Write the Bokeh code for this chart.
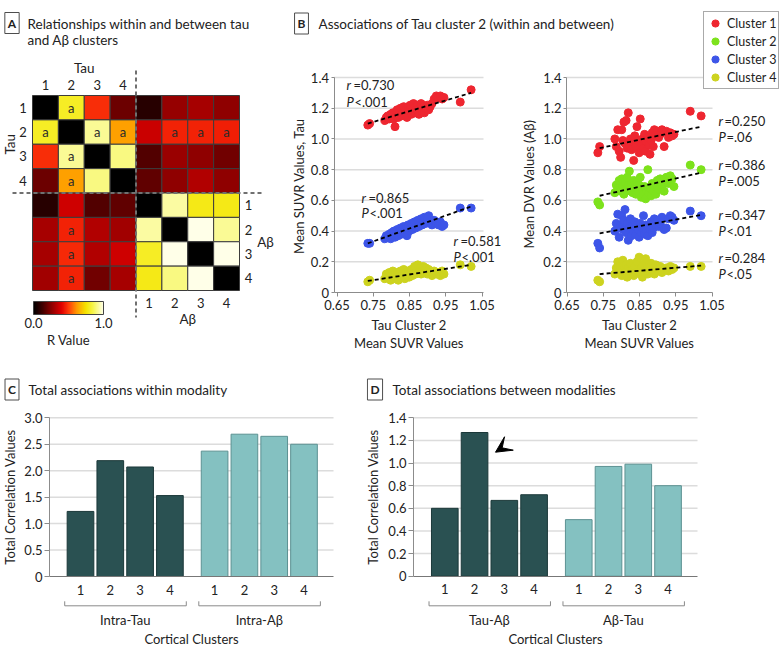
import math
from bokeh.plotting import figure
from bokeh.models import (Range1d, FixedTicker, LinearAxis, Label, Arrow, VeeHead, ColorBar,
                          LinearColorMapper, Legend, LegendItem, ColumnDataSource,
                          PrintfTickFormatter)
from bokeh.layouts import row, column
from bokeh.embed import file_html
from bokeh.resources import INLINE
from bokeh.core.properties import value
from bokeh.core.validation import silence
from bokeh.core.validation.warnings import MISSING_RENDERERS

silence(MISSING_RENDERERS, True)

# ---------------------------------------------------------------- data
cluster_ticks = ["1", "2", "3", "4"]
cluster_names = ["Cluster 1", "Cluster 2", "Cluster 3", "Cluster 4"]

# Panel A: R values; rows/cols = Tau 1-4 then Abeta 1-4 (diagonal not shown -> black)
R_VALUES = [
    [None, 0.80, 0.48, 0.20, 0.08, 0.27, 0.30, 0.26],
    [0.80, None, 0.92, 0.63, 0.36, 0.46, 0.46, 0.45],
    [0.48, 0.92, None, 0.90, 0.16, 0.28, 0.26, 0.21],
    [0.20, 0.63, 0.90, None, 0.18, 0.26, 0.32, 0.26],
    [0.08, 0.37, 0.16, 0.18, None, 0.93, 0.78, 0.78],
    [0.30, 0.46, 0.32, 0.29, 0.93, None, 1.00, 0.92],
    [0.30, 0.47, 0.32, 0.37, 0.80, 1.00, None, 1.00],
    [0.29, 0.46, 0.21, 0.30, 0.78, 0.90, 1.00, None],
]
SIGNIFICANT = [
    [0, 1, 0, 0, 0, 0, 0, 0],
    [1, 0, 1, 1, 0, 1, 1, 1],
    [0, 1, 0, 0, 0, 0, 0, 0],
    [0, 1, 0, 0, 0, 0, 0, 0],
    [0, 0, 0, 0, 0, 0, 0, 0],
    [0, 1, 0, 0, 0, 0, 0, 0],
    [0, 1, 0, 0, 0, 0, 0, 0],
    [0, 1, 0, 0, 0, 0, 0, 0],
]
colorbar_ticks = [0.0, 1.0]

# Panel B
tau2_suvr = [0.735, 0.740, 0.782, 0.786, 0.790, 0.794, 0.798, 0.801, 0.804, 0.807, 0.810, 0.813,
             0.816, 0.819, 0.822, 0.825, 0.828, 0.831, 0.834, 0.837, 0.840, 0.843, 0.846, 0.849,
             0.852, 0.855, 0.858, 0.861, 0.864, 0.867, 0.870, 0.873, 0.876, 0.879, 0.882, 0.885,
             0.888, 0.891, 0.895, 0.899, 0.903, 0.907, 0.912, 0.918, 0.924, 0.930, 0.935, 0.940,
             0.945, 0.990, 1.020]
tau_c1 = [1.09, 1.10, 1.12, 1.14, 1.15, 1.13, 1.16, 1.14, 1.17, 1.13, 1.08, 1.16, 1.19, 1.14, 1.18,
          1.20, 1.15, 1.17, 1.21, 1.16, 1.19, 1.14, 1.21, 1.18, 1.22, 1.16, 1.20, 1.23, 1.17, 1.21,
          1.19, 1.22, 1.16, 1.20, 1.23, 1.18, 1.21, 1.17, 1.20, 1.22, 1.19, 1.21, 1.23, 1.26, 1.28,
          1.27, 1.28, 1.26, 1.27, 1.24, 1.32]
tau_c3 = [0.32, 0.32, 0.35, 0.37, 0.36, 0.38, 0.35, 0.39, 0.37, 0.40, 0.36, 0.38, 0.41, 0.37, 0.40,
          0.42, 0.38, 0.41, 0.43, 0.39, 0.42, 0.37, 0.44, 0.40, 0.42, 0.45, 0.41, 0.43, 0.46, 0.42,
          0.44, 0.47, 0.43, 0.45, 0.48, 0.44, 0.46, 0.49, 0.45, 0.47, 0.50, 0.46, 0.44, 0.47, 0.45,
          0.44, 0.46, 0.43, 0.44, 0.55, 0.55]
tau_c4 = [0.07, 0.08, 0.09, 0.12, 0.10, 0.13, 0.08, 0.11, 0.14, 0.09, 0.12, 0.10, 0.13, 0.08, 0.11,
          0.14, 0.10, 0.12, 0.15, 0.09, 0.13, 0.11, 0.14, 0.10, 0.12, 0.15, 0.11, 0.13, 0.17, 0.12,
          0.14, 0.18, 0.13, 0.16, 0.12, 0.15, 0.17, 0.13, 0.16, 0.12, 0.15, 0.13, 0.11, 0.14, 0.12,
          0.13, 0.11, 0.14, 0.12, 0.18, 0.17]
ab_c1 = [0.91, 0.95, 1.00, 0.95, 1.06, 0.92, 0.88, 1.06, 0.99, 1.11, 0.97, 1.12, 0.94, 1.17, 0.96,
         1.00, 0.93, 0.98, 0.86, 1.02, 0.95, 1.08, 0.99, 0.91, 1.13, 0.97, 1.00, 0.94, 1.03, 0.92,
         0.98, 1.01, 0.96, 0.90, 0.99, 1.04, 0.95, 1.06, 1.02, 1.05, 1.01, 1.03, 1.06, 0.95, 1.05,
         1.01, 1.04, 1.02, 1.03, 1.18, 1.15]
ab_c2 = [0.59, 0.57, 0.65, 0.70, 0.68, 0.73, 0.66, 0.74, 0.69, 0.64, 0.72, 0.67, 0.75, 0.70, 0.79,
         0.66, 0.71, 0.65, 0.73, 0.68, 0.64, 0.72, 0.66, 0.70, 0.75, 0.62, 0.67, 0.64, 0.69, 0.61,
         0.66, 0.80, 0.65, 0.68, 0.63, 0.71, 0.66, 0.70, 0.64, 0.73, 0.67, 0.74, 0.70, 0.66, 0.75,
         0.71, 0.76, 0.74, 0.69, 0.83, 0.80]
ab_c3 = [0.32, 0.29, 0.40, 0.45, 0.51, 0.36, 0.44, 0.50, 0.41, 0.47, 0.54, 0.39, 0.45, 0.34, 0.42,
         0.48, 0.37, 0.43, 0.40, 0.46, 0.38, 0.44, 0.41, 0.36, 0.45, 0.39, 0.42, 0.50, 0.38, 0.44,
         0.40, 0.37, 0.43, 0.41, 0.46, 0.39, 0.42, 0.48, 0.44, 0.47, 0.43, 0.45, 0.49, 0.41, 0.42,
         0.48, 0.50, 0.49, 0.47, 0.53, 0.50]
ab_c4 = [0.08, 0.07, 0.12, 0.16, 0.20, 0.13, 0.17, 0.11, 0.21, 0.15, 0.13, 0.18, 0.10, 0.16, 0.14,
         0.19, 0.12, 0.15, 0.11, 0.17, 0.13, 0.20, 0.14, 0.23, 0.12, 0.16, 0.10, 0.18, 0.13, 0.22,
         0.15, 0.12, 0.17, 0.14, 0.19, 0.13, 0.16, 0.12, 0.18, 0.15, 0.14, 0.17, 0.13, 0.15, 0.16,
         0.14, 0.17, 0.15, 0.16, 0.17, 0.17]
fit_x_left = [0.735, 1.02]
fit_tau_c1 = [1.10, 1.30]
fit_tau_c3 = [0.32, 0.56]
fit_tau_c4 = [0.075, 0.18]
fit_x_right = [0.74, 1.02]
fit_ab_c1 = [0.94, 1.08]
fit_ab_c2 = [0.63, 0.78]
fit_ab_c3 = [0.385, 0.505]
fit_ab_c4 = [0.12, 0.175]
r_left = ["0.730", "0.865", "0.581"]
p_left = ["<.001", "<.001", "<.001"]
r_right = ["0.250", "0.386", "0.347", "0.284"]
p_right = ["=.06", "=.005", "<.01", "<.05"]
x_ticks_B = [0.65, 0.75, 0.85, 0.95, 1.05]
y_ticks_B = [0, 0.2, 0.4, 0.6, 0.8, 1.0, 1.2, 1.4]

# Panels C and D
intra_tau = [1.23, 2.19, 2.07, 1.53]
intra_ab = [2.37, 2.69, 2.65, 2.50]
tau_ab = [0.60, 1.27, 0.67, 0.72]
ab_tau = [0.50, 0.97, 0.99, 0.80]
y_ticks_C = [0, 0.5, 1.0, 1.5, 2.0, 2.5, 3.0]
y_ticks_D = [0, 0.2, 0.4, 0.6, 0.8, 1.0, 1.2, 1.4]
groups_C = ["Intra-Tau", "Intra-A\u03b2"]
groups_D = ["Tau-A\u03b2", "A\u03b2-Tau"]

# ---------------------------------------------------------------- style
FONT = "Lato"
TXT = "#222222"
AXC = "#8c8c8c"
GRIDC = "#dcdcdc"
C_COLORS = ["#ee2630", "#7de21c", "#3d55e8", "#cdd31f"]
DARK_BAR, DARK_LINE = "#2a5152", "#1b3839"
LIGHT_BAR, LIGHT_LINE = "#84c1c1", "#5c9192"

anchors = [(0.00, "#000000"), (0.12, "#3c0000"), (0.25, "#8a0000"), (0.40, "#e00000"),
           (0.50, "#ff3a0a"), (0.62, "#ff9a00"), (0.75, "#f5e400"), (0.85, "#f6f64a"),
           (1.00, "#ffffe8")]


def _rgb(h):
    return [int(h[i:i + 2], 16) for i in (1, 3, 5)]


palette = []
for k in range(256):
    t = k / 255
    for (t0, c0), (t1, c1) in zip(anchors[:-1], anchors[1:]):
        if t0 <= t <= t1:
            f = (t - t0) / (t1 - t0)
            a, b = _rgb(c0), _rgb(c1)
            palette.append("#%02x%02x%02x" % tuple(round(a[i] + (b[i] - a[i]) * f) for i in range(3)))
            break


def lin(p0, d0, p1, d1):
    kk = (d1 - d0) / (p1 - p0)
    return lambda p: d0 + (p - p0) * kk


def canvas_fig(x0, y0, w, h, fx, fy):
    p = figure(width=w, height=h, x_range=Range1d(fx(x0), fx(x0 + w)),
               y_range=Range1d(fy(y0 + h), fy(y0)), x_axis_location=None,
               y_axis_location=None, min_border=0, output_backend="svg",
               toolbar_location=None, outline_line_color=None)
    p.xgrid.visible = False
    p.ygrid.visible = False
    return p


def label(p, x, y, text, size="13px", align="left", style="normal", angle=0.0, x_offset=0,
          **kw):
    p.add_layout(Label(x=x, y=y, text=text, x_offset=x_offset, angle=angle,
                       text_font=FONT, text_font_size=size, text_font_style=style,
                       text_color=TXT, text_align=align, text_baseline="middle", **kw))


def box(p, x, y, letter):
    label(p, x, y, letter, size="12px", align="center", style="bold",
          border_line_color="#4d4d4d", border_line_width=1,
          background_fill_color="white", padding=3)


def fixed_axis(p, side, loc, bounds, ticks, fmt, overrides=None, range_name="default",
               tick_out=4, standoff=3, ticks_on=True):
    ax = LinearAxis(fixed_location=loc, bounds=bounds, ticker=FixedTicker(ticks=ticks),
                    formatter=PrintfTickFormatter(format=fmt), x_range_name=range_name,
                    axis_line_color=AXC, axis_line_width=1,
                    major_tick_line_color=AXC if ticks_on else None,
                    major_tick_out=tick_out, major_tick_in=0, minor_tick_line_color=None,
                    major_label_text_font=FONT, major_label_text_font_size="13px",
                    major_label_text_color=TXT, major_label_standoff=standoff)
    if overrides:
        ax.major_label_overrides = overrides
    p.add_layout(ax, side)
    return ax


# ---------------------------------------------------------------- panel A
fxA = lin(32, 0.5, 239, 8.5)
fyA = lin(95, 0.5, 290, 8.5)
pA = canvas_fig(0, 0, 282, 350, fxA, fyA)

hx, hy, hv, tx, ty = [], [], [], [], []
for r in range(8):
    for c in range(8):
        hx.append(c + 1)
        hy.append(r + 1)
        v = R_VALUES[r][c]
        hv.append(float("nan") if v is None else v)
        if SIGNIFICANT[r][c]:
            tx.append(c + 1)
            ty.append(r + 1)
mapper = LinearColorMapper(palette=palette, low=0, high=1, nan_color="#000000")
pA.rect(x="x", y="y", width=1, height=1, source=ColumnDataSource(dict(x=hx, y=hy, v=hv)),
        fill_color={"field": "v", "transform": mapper}, line_color="#3c3c3c", line_width=1)
pA.text(x=tx, y=ty, text=["a"] * len(tx), text_font=value(FONT), text_font_size=value("13px"),
        text_color="#2b2b2b", text_align="center", text_baseline="middle")

tau_pos = [i + 1 for i in range(4)]
ab_pos = [i + 5 for i in range(4)]
digit_kw = dict(text_font=value(FONT), text_font_size=value("13px"), text_color=TXT,
                text_align="center", text_baseline="middle")
pA.text(x=tau_pos, y=[fyA(84)] * 4, text=cluster_ticks, **digit_kw)
pA.text(x=[fxA(22.5)] * 4, y=tau_pos, text=cluster_ticks, **digit_kw)
pA.text(x=[fxA(248)] * 4, y=ab_pos, text=cluster_ticks, **digit_kw)
pA.text(x=ab_pos, y=[fyA(302)] * 4, text=cluster_ticks, **digit_kw)

label(pA, 2.5, fyA(67), "Tau", size="13.5px", align="center")
label(pA, fxA(9.5), 2.5, "Tau", size="13.5px", align="center", angle=math.pi / 2)
label(pA, fxA(265), 6.5, "A\u03b2", size="13.5px", align="center")
label(pA, 6.5, fyA(318), "A\u03b2", size="13.5px", align="center")

pA.segment(x0=[4.5, fxA(12)], y0=[fyA(70), 4.5], x1=[4.5, fxA(262)], y1=[fyA(317), 4.5],
           line_color="#707070", line_width=2, line_dash="4 3")

cb = ColorBar(color_mapper=mapper, orientation="horizontal", width=70, height=13,
              location=(33, 20), padding=0, ticker=FixedTicker(ticks=colorbar_ticks),
              formatter=PrintfTickFormatter(format="%.1f"), major_tick_line_color=None,
              minor_tick_line_color=None, bar_line_color="#444444",
              major_label_text_font=FONT, major_label_text_font_size="13px",
              major_label_text_color=TXT, label_standoff=3, background_fill_color=None,
              border_line_color=None)
pA.add_layout(cb)
label(pA, fxA(68), fyA(339), "R Value", align="center")

box(pA, fxA(11.5), fyA(22.5), "A")
label(pA, fxA(27), fyA(23), "Relationships within and between tau", size="13.5px")
label(pA, fxA(27), fyA(39.5), "and A\u03b2 clusters", size="13.5px")

# ---------------------------------------------------------------- panel B (two scatter plots)
fxB = lin(336.5, 0.65, 481.5, 1.05)
fxBR = lin(566.5, 0.65, 711.5, 1.05)
fyB = lin(77, 1.4, 292, 0.0)
pB = canvas_fig(282, 0, 500, 350, fxB, fyB)
pB.extra_x_ranges = {"right": Range1d(fxBR(282), fxBR(782))}

# gridlines (drawn from the y tick values)
gl = [t for t in y_ticks_B if t > 0]
pB.segment(x0=[fxB(333.5)] * len(gl), x1=[fxB(483)] * len(gl), y0=gl, y1=gl,
           line_color=GRIDC, line_width=1.5)
pB.segment(x0=[fxBR(566)] * len(gl), x1=[fxBR(712)] * len(gl), y0=gl, y1=gl,
           line_color=GRIDC, line_width=1.5, x_range_name="right")

fixed_axis(pB, "left", fxB(333.5), (0, 1.4), y_ticks_B, "%.1f", {0: "0"}, tick_out=3, standoff=2)
fixed_axis(pB, "left", fxBR(566), (0, 1.4), y_ticks_B, "%.1f", {0: "0"}, range_name="right",
           tick_out=3, standoff=2)
fixed_axis(pB, "below", 0, (fxB(333.5), fxB(483)), x_ticks_B, "%.2f", tick_out=4, standoff=3)
fixed_axis(pB, "below", 0, (fxBR(566), fxBR(712)), x_ticks_B, "%.2f", range_name="right",
           tick_out=4, standoff=3)

for ys, col in [(tau_c1, C_COLORS[0]), (tau_c3, C_COLORS[2]), (tau_c4, C_COLORS[3])]:
    pB.scatter(tau2_suvr, ys, size=8, fill_color=col, line_color=col)
for fy in [fit_tau_c1, fit_tau_c3, fit_tau_c4]:
    pB.line(fit_x_left, fy, line_color="black", line_width=1.8, line_dash="4 3")

rends = []
for ys, col in zip([ab_c1, ab_c2, ab_c3, ab_c4], C_COLORS):
    rends.append(pB.scatter(tau2_suvr, ys, size=8, fill_color=col, line_color=col,
                            x_range_name="right"))
for fy in [fit_ab_c1, fit_ab_c2, fit_ab_c3, fit_ab_c4]:
    pB.line(fit_x_right, fy, line_color="black", line_width=1.8, line_dash="4 3",
            x_range_name="right")

for (px, py_r, py_p), rv, pv in zip([(346, 84.5, 101), (361, 197, 212), (453, 240, 256)],
                                     r_left, p_left):
    label(pB, fxB(px), fyB(py_r), "r", style="italic")
    label(pB, fxB(px), fyB(py_r), "=" + rv, x_offset=7)
    label(pB, fxB(px), fyB(py_p), "P", style="italic")
    label(pB, fxB(px), fyB(py_p), pv, x_offset=8)
for (py_r, py_p), rv, pv in zip([(120, 136), (164, 180), (214, 230), (257, 273)],
                                r_right, p_right):
    label(pB, fxB(718), fyB(py_r), "r", style="italic")
    label(pB, fxB(718), fyB(py_r), "=" + rv, x_offset=6)
    label(pB, fxB(718), fyB(py_p), "P", style="italic")
    label(pB, fxB(718), fyB(py_p), pv, x_offset=8)

label(pB, fxB(298), fyB(185.5), "Mean SUVR Values, Tau", align="center", angle=math.pi / 2)
label(pB, fxB(528), fyB(183.5), "Mean DVR Values (A\u03b2)", align="center", angle=math.pi / 2)
for cx in (408.5, 639):
    label(pB, fxB(cx), fyB(324), "Tau Cluster 2", align="center")
    label(pB, fxB(cx), fyB(342), "Mean SUVR Values", align="center")

box(pB, fxB(301), fyB(23), "B")
label(pB, fxB(318), fyB(23), "Associations of Tau cluster 2 (within and between)", size="13.5px")

legend = Legend(items=[LegendItem(label=n, renderers=[r]) for n, r in zip(cluster_names, rends)],
                location=(421, 261), orientation="vertical", border_line_color="#555555",
                border_line_width=1, background_fill_color="white", background_fill_alpha=1,
                padding=2, spacing=0, margin=0, label_text_font=FONT,
                label_text_font_size="12.5px", label_text_color=TXT, glyph_width=18,
                glyph_height=18, label_height=18, label_standoff=3)
pB.add_layout(legend)

# ---------------------------------------------------------------- panels C & D
bar_pos1 = [i + 1 for i in range(4)]
bar_pos2 = [i + 5.5 for i in range(4)]


def bar_panel(x0, w, fx, fy, ymax, yticks, v1, v2, groups, letter, title, axis_px, grid_px,
              box_px, title_px, ylab_px, xlab_px):
    p = canvas_fig(x0, 350, w, 306, fx, fy)
    gt = [t for t in yticks if t > 0]
    p.segment(x0=[fx(axis_px)] * len(gt), x1=[fx(grid_px)] * len(gt), y0=gt, y1=gt,
              line_color=GRIDC, line_width=1.5)
    p.vbar(x=bar_pos1, top=v1, width=0.895, fill_color=DARK_BAR, line_color=DARK_LINE,
           line_width=1)
    p.vbar(x=bar_pos2, top=v2, width=0.895, fill_color=LIGHT_BAR, line_color=LIGHT_LINE,
           line_width=1)
    fixed_axis(p, "left", fx(axis_px), (0, ymax), yticks, "%.1f", {0: "0"}, tick_out=5,
               standoff=2)
    ticks = bar_pos1 + bar_pos2
    xa = fixed_axis(p, "below", 0, (fx(axis_px), fx(grid_px)), ticks, "%.1f",
                    {t: lab for t, lab in zip(ticks, cluster_ticks * 2)}, tick_out=0,
                    standoff=8, ticks_on=False)
    xa.axis_line_color = "#777777"

    yb, yt = fy(605.3), fy(600.8)
    for pos, name in zip([bar_pos1, bar_pos2], groups):
        a, b = pos[0] - 0.53, pos[-1] + 0.55
        p.multi_line(xs=[[a, a, b, b]], ys=[[yt, yb, yb, yt]], line_color="#8a8a8a",
                     line_width=1)
        label(p, sum(pos) / len(pos), fy(619), name, align="center")
    label(p, fx(xlab_px), fy(638), "Cortical Clusters", align="center")
    label(p, fx(ylab_px), (fy(417.3) + fy(576)) / 2 if False else fy(496.5),
          "Total Correlation Values", align="center", angle=math.pi / 2)
    box(p, fx(box_px), fy(389), letter)
    label(p, fx(title_px), fy(389), title, size="13.5px")
    return p


fxC = lin(80, 1, 169.4, 4)
fyC = lin(576, 0, 417.3, 3.0)
pC = bar_panel(0, 366, fxC, fyC, 3.0, y_ticks_C, intra_tau, intra_ab, groups_C, "C",
               "Total associations within modality", 49, 333, 11.5, 28, 9, 191)

fxD = lin(444.3, 1, 533.6, 4)
fyD = lin(575.7, 0, 417.3, 1.4)
pD = bar_panel(366, 416, fxD, fyD, 1.4, y_ticks_D, tau_ab, ab_tau, groups_D, "D",
               "Total associations between modalities", 413, 697, 374.5, 392, 372.5, 555)
pD.add_layout(Arrow(end=VeeHead(size=16, fill_color="black", line_color="black"),
                    x_start=fxD(508.8), y_start=fyD(442.7), x_end=fxD(495), y_end=fyD(451.7),
                    line_color=None))

layout = column(row(pA, pB), row(pC, pD))
open("out.html", "w").write(file_html(layout, INLINE, "chart"))
